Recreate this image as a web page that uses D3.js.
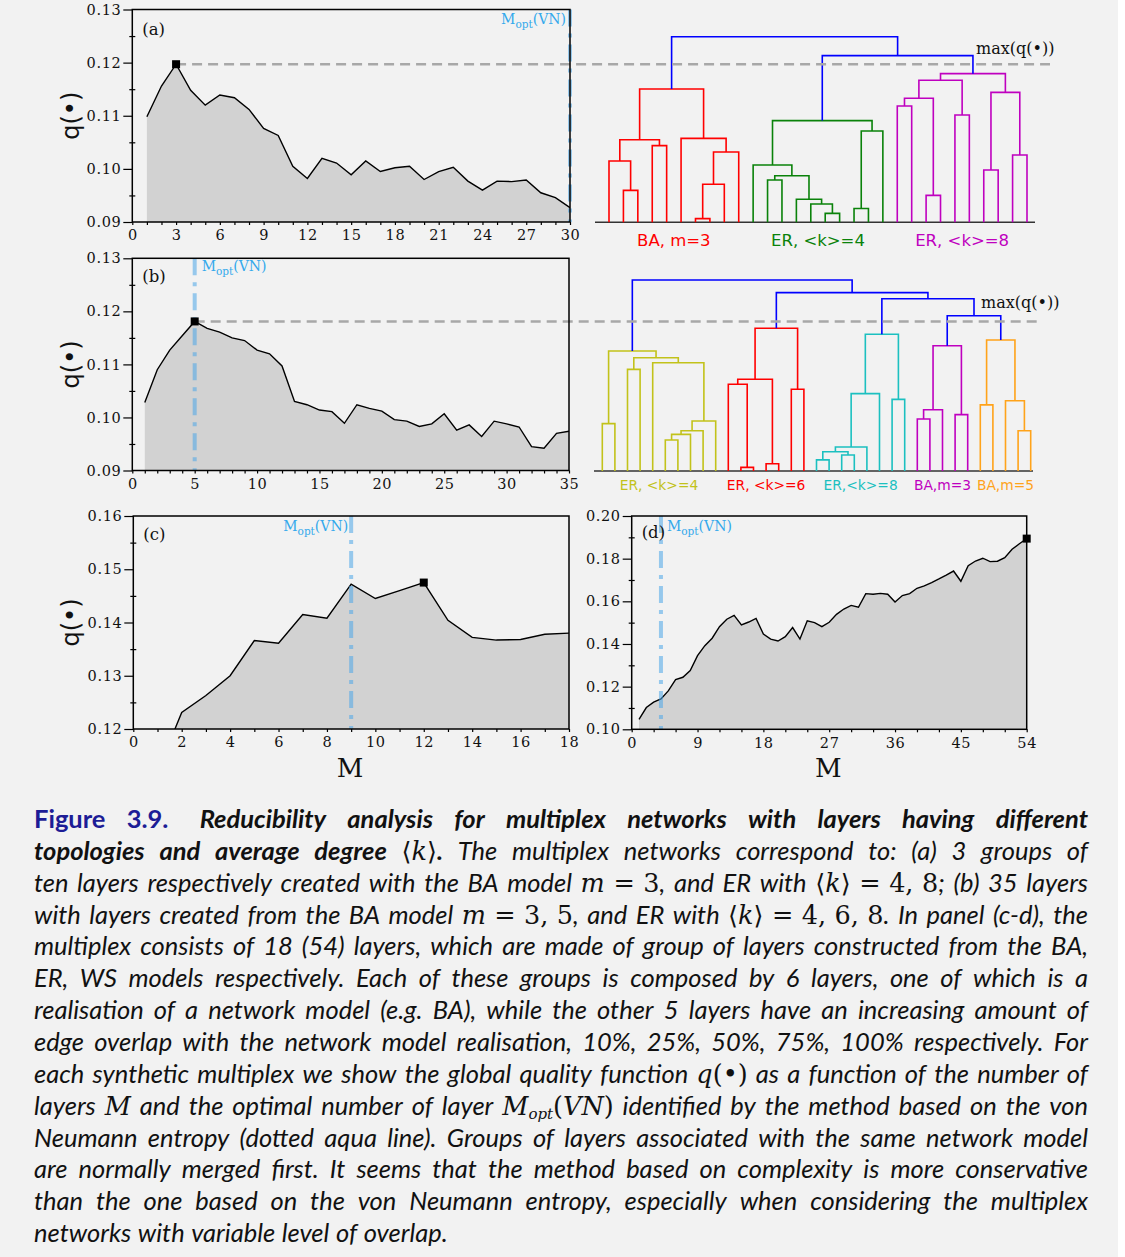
<!DOCTYPE html>
<html>
<head>
<meta charset="utf-8">
<script src="https://cdn.jsdelivr.net/npm/d3@7"></script>
<style>
  body { margin: 0; background: #fff; }
</style>
</head>
<body>
<script>
const W = 1125, H = 1257;

// q(•) per number of layers M = 1..n
const qA = [0.1098, 0.1156, 0.1197, 0.1148, 0.1120, 0.1139, 0.1134, 0.1112, 0.1076, 0.1063,
            0.1005, 0.0982, 0.1020, 0.1011, 0.0989, 0.1015, 0.0995, 0.1002, 0.1005, 0.0980,
            0.0995, 0.1003, 0.0977, 0.0960, 0.0977, 0.0976, 0.0979, 0.0955, 0.0946, 0.0927];
const qB = [0.1028, 0.1090, 0.1127, 0.1154, 0.1181, 0.1168, 0.1161, 0.1150, 0.1145, 0.1127,
            0.1120, 0.1097, 0.1030, 0.1024, 0.1014, 0.1011, 0.0989, 0.1024, 0.1017, 0.1012,
            0.0996, 0.0993, 0.0983, 0.0988, 0.1007, 0.0976, 0.0986, 0.0964, 0.0993, 0.0988,
            0.0982, 0.0945, 0.0942, 0.0970, 0.0974];
const qC = [0.1120, 0.1231, 0.1263, 0.1300, 0.1366, 0.1361, 0.1415, 0.1408, 0.1472, 0.1445,
            0.1460, 0.1475, 0.1404, 0.1372, 0.1367, 0.1368, 0.1378, 0.1380];
const qD = [0.1047, 0.1102, 0.1127, 0.1142, 0.1180, 0.1233, 0.1244, 0.1275, 0.1345, 0.1392,
            0.1427, 0.1481, 0.1516, 0.1534, 0.1489, 0.1503, 0.1520, 0.1447, 0.1423, 0.1414,
            0.1434, 0.1477, 0.1423, 0.1509, 0.1500, 0.1481, 0.1502, 0.1539, 0.1564, 0.1581,
            0.1572, 0.1636, 0.1633, 0.1637, 0.1633, 0.1597, 0.1627, 0.1636, 0.1661, 0.1672,
            0.1688, 0.1705, 0.1723, 0.1742, 0.1694, 0.1767, 0.1789, 0.1802, 0.1786, 0.1788,
            0.1805, 0.1844, 0.1870, 0.1894];

// optimal M from von Neumann entropy
const moptA = 30, moptB = 5, moptC = 9, moptD = 4;

// tick values
const xTicksA = d3.range(0, 31, 3), yTicksA = [0.09, 0.10, 0.11, 0.12, 0.13];
const xTicksB = d3.range(0, 36, 5), yTicksB = [0.09, 0.10, 0.11, 0.12, 0.13];
const xTicksC = d3.range(0, 19, 2), yTicksC = [0.12, 0.13, 0.14, 0.15, 0.16];
const xTicksD = d3.range(0, 55, 9), yTicksD = [0.10, 0.12, 0.14, 0.16, 0.18, 0.20];

// dendrograms: merges [childA, childB, height, colour], ids >= n are earlier merges
const nLeavesA = 30;
const linksA = [
  [1, 2, 0.172, "r"], [0, 30, 0.330, "r"], [3, 4, 0.413, "r"], [31, 32, 0.445, "r"],
  [6, 7, 0.020, "r"], [34, 8, 0.205, "r"], [35, 9, 0.379, "r"], [5, 36, 0.452, "r"],
  [33, 37, 0.718, "r"],
  [15, 16, 0.048, "g"], [14, 39, 0.099, "g"], [13, 40, 0.124, "g"], [11, 12, 0.228, "g"],
  [42, 41, 0.251, "g"], [10, 43, 0.309, "g"], [17, 18, 0.074, "g"], [45, 19, 0.492, "g"],
  [44, 46, 0.548, "g"],
  [20, 21, 0.627, "m"], [22, 23, 0.145, "m"], [48, 49, 0.668, "m"], [24, 25, 0.578, "m"],
  [50, 51, 0.765, "m"], [26, 27, 0.282, "m"], [28, 29, 0.363, "m"], [53, 54, 0.700, "m"],
  [52, 55, 0.801, "m"],
  [47, 56, 0.898, "b"], [38, 57, 1.0, "b"]
];
const groupsA = [["BA, m=3", 0, 9, "r"], ["ER, <k>=4", 10, 19, "g"], ["ER, <k>=8", 20, 29, "m"]];

const nLeavesB = 35;
const linksB = [
  [0, 1, 0.248, "y"], [5, 6, 0.162, "y"], [36, 7, 0.192, "y"], [37, 8, 0.211, "y"],
  [38, 9, 0.262, "y"], [4, 39, 0.567, "y"], [2, 3, 0.532, "y"], [41, 40, 0.593, "y"],
  [35, 42, 0.628, "y"],
  [11, 12, 0.019, "r"], [10, 44, 0.454, "r"], [13, 14, 0.038, "r"], [45, 46, 0.480, "r"],
  [15, 16, 0.428, "r"], [47, 48, 0.747, "r"],
  [17, 18, 0.058, "c"], [19, 20, 0.084, "c"], [50, 51, 0.101, "c"], [52, 21, 0.126, "c"],
  [53, 22, 0.405, "c"], [23, 24, 0.375, "c"], [54, 55, 0.716, "c"],
  [25, 26, 0.272, "m"], [57, 27, 0.321, "m"], [28, 29, 0.295, "m"], [58, 59, 0.656, "m"],
  [30, 31, 0.346, "o"], [33, 34, 0.211, "o"], [32, 62, 0.368, "o"], [61, 63, 0.686, "o"],
  [60, 64, 0.813, "b"], [56, 65, 0.902, "b"], [49, 66, 0.934, "b"], [43, 67, 1.0, "b"]
];
const groupsB = [["ER, <k>=4", 0, 9, "y"], ["ER, <k>=6", 10, 16, "r"], ["ER,<k>=8", 17, 24, "c"],
                 ["BA,m=3", 25, 29, "m"], ["BA,m=5", 30, 34, "o"]];

const col = { r: "#ff0000", g: "#0a820a", m: "#bf00bf", b: "#0000ff", y: "#c2c21a", c: "#1cc0c0", o: "#ffa31a" };

const captionLines = [
  [["Figure 3.9.  ", "fb"], ["Reducibility analysis for multiplex networks with layers having different", "bi"]],
  [["topologies and average degree ", "bi"], ["⟨", "mr"], ["k", "mi"], ["⟩", "mr"], [".", "bi"], [" The multiplex networks correspond to: (a) 3 groups of", "i"]],
  [["ten layers respectively created with the BA model ", "i"], ["m", "mi"], [" = 3", "mr"], [", and ER with ", "i"], ["⟨", "mr"], ["k", "mi"], ["⟩ = 4, 8", "mr"], ["; (b) 35 layers", "i"]],
  [["with layers created from the BA model ", "i"], ["m", "mi"], [" = 3, 5", "mr"], [", and ER with ", "i"], ["⟨", "mr"], ["k", "mi"], ["⟩ = 4, 6, 8", "mr"], [". In panel (c-d), the", "i"]],
  [["multiplex consists of 18 (54) layers, which are made of group of layers constructed from the BA,", "i"]],
  [["ER, WS models respectively. Each of these groups is composed by 6 layers, one of which is a", "i"]],
  [["realisation of a network model (e.g. BA), while the other 5 layers have an increasing amount of", "i"]],
  [["edge overlap with the network model realisation, 10%, 25%, 50%, 75%, 100% respectively. For", "i"]],
  [["each synthetic multiplex we show the global quality function ", "i"], ["q", "mi"], ["(•)", "mr"], [" as a function of the number of", "i"]],
  [["layers ", "i"], ["M", "mi"], [" and the optimal number of layer ", "i"], ["M", "mi"], ["opt", "sub"], ["(", "mr2"], ["VN", "mi"], [")", "mr"], [" identified by the method based on the von", "i"]],
  [["Neumann entropy (dotted aqua line). Groups of layers associated with the same network model", "i"]],
  [["are normally merged first. It seems that the method based on complexity is more conservative", "i"]],
  [["than the one based on the von Neumann entropy, especially when considering the multiplex", "i"]],
  [["networks with variable level of overlap.", "i"]]
];

const svg = d3.select("body").append("svg").attr("width", W).attr("height", H);
svg.append("rect").attr("width", 1118).attr("height", H).attr("fill", "#f2f2f2");

const serif = "DejaVu Serif, serif";
const sans = "DejaVu Sans, sans-serif";

//dendrograms first, the dashed max lines go over them
function drawDendro(d) {
  const x = d3.scaleLinear().domain([0, d.n - 1]).range(d.xr);
  const y = d3.scaleLinear().domain([0, 1]).range(d.yr);
  const pos = [], hgt = [];
  for (let i = 0; i < d.n; i++) { pos[i] = x(i); hgt[i] = 0; }
  const segs = d.links.map((l, k) => {
    const [a, b, h, c] = l;
    pos[d.n + k] = (pos[a] + pos[b]) / 2;
    hgt[d.n + k] = h;
    return { xa: pos[a], ya: y(hgt[a]), xb: pos[b], yb: y(hgt[b]), yh: y(h), c };
  });
  const g = svg.append("g");
  g.append("line").attr("x1", d.base[0]).attr("x2", d.base[1])
    .attr("y1", y(0)).attr("y2", y(0)).attr("stroke", "#333").attr("stroke-width", 1.6);
  g.selectAll(".lnk").data(segs).enter().append("path").classed("lnk", true)
    .attr("d", s => `M${s.xa},${s.ya}V${s.yh}H${s.xb}V${s.yb}`)
    .attr("fill", "none").attr("stroke", s => col[s.c]).attr("stroke-width", 1.6);
  g.selectAll(".glab").data(d.groups).enter().append("text").classed("glab", true)
    .attr("x", gr => (x(gr[1]) + x(gr[2])) / 2).attr("y", d.labY)
    .attr("text-anchor", "middle").attr("font-family", sans).attr("font-size", d.labSize)
    .attr("fill", gr => col[gr[3]]).text(gr => gr[0]);
  g.append("text").attr("x", d.maxX).attr("y", d.maxY).attr("font-family", serif)
    .attr("font-size", 16).attr("fill", "#111").text("max(q(•))");
}

drawDendro({ n: nLeavesA, links: linksA, groups: groupsA, xr: [609, 1027], yr: [222.3, 36.7],
             base: [595, 1035], labY: 246, labSize: 16.5, maxX: 976, maxY: 54 });
drawDendro({ n: nLeavesB, links: linksB, groups: groupsB, xr: [602.3, 1030.7], yr: [471, 280],
             base: [594, 1033], labY: 490, labSize: 13.8, maxX: 981, maxY: 308 });

function moptLabel(g, xp, yp, anchor) {
  const t = g.append("text").attr("x", xp).attr("y", yp).attr("text-anchor", anchor)
    .attr("font-family", serif).attr("font-size", 14).attr("fill", "#35a9ec");
  t.append("tspan").text("M");
  t.append("tspan").attr("dy", 4).attr("font-size", 10.5).text("opt");
  t.append("tspan").attr("dy", -4).text("(VN)");
}

function drawPanel(p) {
  const [x0, y0, x1, y1] = p.box;
  const x = d3.scaleLinear().domain([0, p.xmax]).range([x0, x1]);
  const y = d3.scaleLinear().domain([p.yTicks[0], p.yTicks[p.yTicks.length - 1]]).range([y1, y0]);
  const pts = p.q.map((v, i) => ({ m: i + 1, v }));
  const g = svg.append("g");
  const cid = "clip" + p.id;
  g.append("clipPath").attr("id", cid).append("rect")
    .attr("x", x0).attr("y", y0).attr("width", x1 - x0).attr("height", y1 - y0);
  const inner = g.append("g").attr("clip-path", `url(#${cid})`);

  inner.append("path").datum(pts)
    .attr("d", d3.area().x(d => x(d.m)).y0(y1).y1(d => y(d.v)))
    .attr("fill", "#d2d2d2");

  // M_opt(VN) dash-dot line
  g.append("line").attr("x1", x(p.mopt)).attr("x2", x(p.mopt)).attr("y1", y0).attr("y2", y1)
    .attr("stroke", "#4aa6e8").attr("stroke-opacity", 0.55).attr("stroke-width", 4)
    .attr("stroke-dasharray", "17,7,4,7");

  inner.append("path").datum(pts)
    .attr("d", d3.line().x(d => x(d.m)).y(d => y(d.v)))
    .attr("fill", "none").attr("stroke", "#000").attr("stroke-width", 1.4);

  const best = pts.reduce((a, b) => (b.v > a.v ? b : a));
  if (p.dashTo) {
    g.append("line").attr("x1", x(best.m)).attr("x2", p.dashTo)
      .attr("y1", y(best.v)).attr("y2", y(best.v))
      .attr("stroke", "#a8a8a8").attr("stroke-width", 2.5).attr("stroke-dasharray", "10,6");
  }
  g.append("rect").attr("x", x(best.m) - 4).attr("y", y(best.v) - 4)
    .attr("width", 8).attr("height", 8).attr("fill", "#000");

  g.append("rect").attr("x", x0).attr("y", y0).attr("width", x1 - x0).attr("height", y1 - y0)
    .attr("fill", "none").attr("stroke", "#000").attr("stroke-width", 1.5);

  // x axis
  const gx = g.append("g").attr("transform", `translate(0,${y1})`)
    .call(d3.axisBottom(x).tickValues(p.xTicks).tickSize(3).tickPadding(5).tickFormat(d3.format("d")));
  const minX = d3.range(0, p.xmax + 0.001, p.xMinor).filter(v => !p.xTicks.includes(v));
  const gxm = g.append("g").attr("transform", `translate(0,${y1})`)
    .call(d3.axisBottom(x).tickValues(minX).tickSize(3).tickFormat(""));
  // y axis
  const gy = g.append("g").attr("transform", `translate(${x0},0)`)
    .call(d3.axisLeft(y).tickValues(p.yTicks).tickSize(9).tickPadding(2).tickFormat(d3.format(".2f")));
  const st = (p.yTicks[1] - p.yTicks[0]) / 2;
  const minY = p.yTicks.slice(0, -1).map(v => v + st);
  const gym = g.append("g").attr("transform", `translate(${x0},0)`)
    .call(d3.axisLeft(y).tickValues(minY).tickSize(3).tickFormat(""));
  gym.selectAll("line").attr("x2", -3).attr("x1", 3);
  [gx, gxm, gy, gym].forEach(a => {
    a.select(".domain").remove();
    a.selectAll("line").attr("stroke", "#000").attr("stroke-width", 1.2);
    a.selectAll("text").attr("font-family", serif).attr("font-size", 14.5)
      .attr("letter-spacing", 0.6).attr("fill", "#111");
  });

  g.append("text").attr("x", x0 + 10).attr("y", y0 + p.labDy).attr("font-family", serif)
    .attr("font-size", 16.5).attr("fill", "#111").text("(" + p.id + ")");

  moptLabel(g, x(p.mopt) + p.moptDx, p.moptY, p.moptDx < 0 ? "end" : "start");

  if (p.ylab) {
    g.append("text").attr("transform", `translate(79,${(y0 + y1) / 2}) rotate(-90)`)
      .attr("text-anchor", "middle").attr("font-family", sans).attr("font-size", 24)
      .attr("fill", "#111").text("q(•)");
  }
  if (p.xlab) {
    g.append("text").attr("x", (x0 + x1) / 2 - 1).attr("y", 777).attr("text-anchor", "middle")
      .attr("font-family", serif).attr("font-size", 26).attr("fill", "#111").text("M");
  }
}

drawPanel({ id: "a", q: qA, mopt: moptA, xmax: 30, xTicks: xTicksA, yTicks: yTicksA, xMinor: 1,
            box: [132.3, 9.5, 570, 222], dashTo: 1050, labDy: 25, moptDx: -4, moptY: 24, ylab: true });
drawPanel({ id: "b", q: qB, mopt: moptB, xmax: 35, xTicks: xTicksB, yTicks: yTicksB, xMinor: 1,
            box: [132.3, 258.3, 569, 470.5], dashTo: 1042, labDy: 24, moptDx: 7, moptY: 271, ylab: true });
drawPanel({ id: "c", q: qC, mopt: moptC, xmax: 18, xTicks: xTicksC, yTicks: yTicksC, xMinor: 1,
            box: [133.3, 516, 569, 729], dashTo: null, labDy: 24, moptDx: -3, moptY: 531, ylab: true, xlab: true });
drawPanel({ id: "d", q: qD, mopt: moptD, xmax: 54, xTicks: xTicksD, yTicks: yTicksD, xMinor: 3,
            box: [631.7, 516, 1026.7, 729.3], dashTo: null, labDy: 22, moptDx: 6, moptY: 531, ylab: false, xlab: true });

// caption: every word placed on its own, gaps stretched to justify the line
const capX = 34, capW = 1054, capY0 = 828, capStep = 31.85, capSize = 25.5;
const capSans = "Lato, 'Open Sans', sans-serif";
function styleSeg(ts, s) {
  if (s === "fb") ts.attr("font-weight", "bold").attr("fill", "#1d1d96");
  else if (s === "bi") ts.attr("font-weight", "bold").attr("font-style", "italic");
  else if (s === "i") ts.attr("font-style", "italic");
  else if (s === "mi") ts.attr("font-family", serif).attr("font-style", "italic");
  else if (s === "mr" || s === "mr2") ts.attr("font-family", serif);
  else if (s === "sub") ts.attr("font-family", serif).attr("font-style", "italic").attr("font-size", 15);
}
const cap = svg.append("g").attr("font-family", capSans).attr("font-size", capSize).attr("fill", "#111");
captionLines.forEach((line, i) => {
  const words = [[]];
  line.forEach(([txt, s]) => {
    txt.split(" ").forEach((part, j) => {
      if (j > 0) words.push([]);
      if (part) words[words.length - 1].push([part, s]);
    });
  });
  const ws = words.filter(w => w.length);
  const yb = capY0 + i * capStep;
  const nodes = ws.map(w => {
    const t = cap.append("text").attr("y", yb);
    w.forEach(([part, s]) => {
      const ts = t.append("tspan").text(part);
      styleSeg(ts, s);
      if (s === "sub") ts.attr("dy", 4);
      if (s === "mr2") ts.attr("dy", -4);
    });
    return { t, w: t.node().getComputedTextLength() };
  });
  const total = d3.sum(nodes, d => d.w);
  const isLast = i === captionLines.length - 1;
  // wider gap after the figure number
  const extra = i === 0 ? 10 : 0;
  const gap = isLast ? capSize * 0.26 : (capW - total - extra) / (nodes.length - 1);
  let xc = capX;
  nodes.forEach((n, k) => {
    n.t.attr("x", xc);
    xc += n.w + gap + (i === 0 && k === 1 ? extra : 0);
  });
});
</script>
</body>
</html>
